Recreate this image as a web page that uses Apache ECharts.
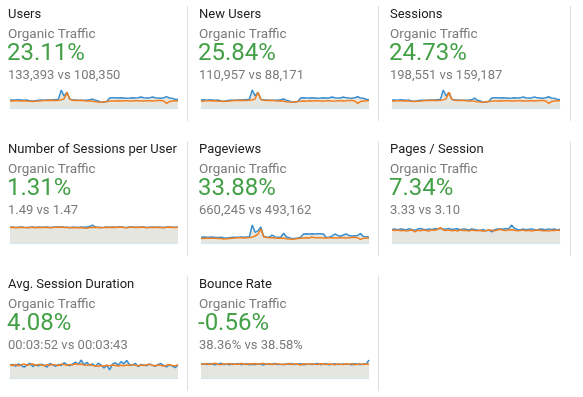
<!DOCTYPE html>
<html>
<head>
<meta charset="utf-8">
<script src="https://cdn.jsdelivr.net/npm/echarts@6/dist/echarts.min.js"></script>
<style>
  html, body { margin: 0; padding: 0; background: #fff; }
  #main { width: 583px; height: 397px; }
</style>
</head>
<body>
<div id="main"></div>
<script>
// scorecard texts
var metricNames = ['Users', 'New Users', 'Sessions', 'Number of Sessions per User', 'Pageviews',
  'Pages / Session', 'Avg. Session Duration', 'Bounce Rate'];
var segmentName = 'Organic Traffic';
var changeLabels = ['23.11%', '25.84%', '24.73%', '1.31%', '33.88%', '7.34%', '4.08%', '-0.56%'];
var compareLabels = ['133,393 vs 108,350', '110,957 vs 88,171', '198,551 vs 159,187', '1.49 vs 1.47',
  '660,245 vs 493,162', '3.33 vs 3.10', '00:03:52 vs 00:03:43', '38.36% vs 38.58%'];

// daily values, current period (blue) and previous period (orange)
var usersCur = [1480,1500,1460,1520,1490,1450,1470,1300,1280,1350,1420,1460,1440,1500,1480,1510,1550,1600,
  3330,2200,2900,1650,
  1500,1480,1420,1450,1430,1470,1520,1650,1450,1300,1050,1100,1200,
  1850,1900,1880,1850,1900,1870,1820,1850,1900,1860,1880,2050,1900,1850,1870,2050,1880,1850,1820,1900,2100,1850,1800,1600,1550];
var usersPrev = [1300,1280,1350,1320,1300,1340,1280,1250,1200,1260,1300,1350,1380,1400,1420,1380,1400,1450,
  1500,1700,2900,1600,
  1450,1400,1380,1420,1350,1300,1320,1250,1150,1100,1050,1150,1200,
  1250,1300,1280,1320,1300,1350,1330,1300,1280,1320,1350,1300,1280,1330,1350,1300,1320,1380,1400,1300,850,1200,1300,1350,1320];

var newUsersCur = [1220,1250,1200,1260,1230,1190,1210,1080,1050,1120,1170,1200,1190,1240,1220,1260,1280,1330,
  2750,1850,2400,1350,
  1240,1220,1170,1200,1180,1210,1260,1380,1200,1080,870,900,1000,
  1520,1560,1540,1520,1560,1530,1500,1520,1560,1530,1540,1680,1560,1520,1540,1690,1550,1520,1500,1560,1720,1520,1480,1330,1280];
var newUsersPrev = [1070,1050,1110,1090,1070,1100,1050,1030,990,1040,1070,1110,1130,1150,1170,1130,1150,1190,
  1230,1400,2400,1320,
  1190,1150,1130,1170,1110,1070,1090,1030,950,900,860,950,990,
  1030,1070,1050,1090,1070,1110,1090,1070,1050,1090,1110,1070,1050,1090,1110,1070,1090,1130,1150,1070,700,990,1070,1110,1090];

var sessionsCur = [2180,2220,2150,2250,2200,2140,2170,1920,1890,2000,2100,2160,2130,2220,2190,2240,2300,2380,
  4950,3300,4300,2450,
  2220,2190,2100,2150,2120,2180,2250,2700,2150,1920,1550,1620,1780,
  2750,2820,2800,2750,2820,2780,2700,2750,2820,2760,2790,3050,2820,2750,2780,3050,2790,2750,2700,2820,3100,2750,2680,2380,2300];
var sessionsPrev = [1930,1900,2000,1960,1930,1990,1900,1850,1780,1870,1930,2000,2050,2080,2110,2050,2080,2150,
  2230,2520,4300,2380,
  2150,2080,2050,2110,2000,1930,1960,1850,1700,1630,1560,1700,1780,
  1850,1930,1900,1960,1930,2000,1970,1930,1900,1960,2000,1930,1900,1970,2000,1930,1960,2050,2080,1930,1260,1780,1930,2000,1960];

var sessPerUserCur = [1.48,1.50,1.47,1.49,1.51,1.48,1.46,1.49,1.50,1.47,
  1.52,1.49,1.48,1.50,1.47,1.49,1.51,1.50,1.53,1.49,
  1.48,1.46,1.50,1.49,1.47,1.50,1.48,1.52,1.55,1.70,
  1.51,1.49,1.47,1.48,1.50,1.49,1.51,1.48,1.50,1.52,
  1.49,1.47,1.50,1.51,1.48,1.49,1.52,1.50,1.47,1.49,
  1.51,1.48,1.50,1.49,1.47,1.50,1.52,1.49,1.48,1.50];
var sessPerUserPrev = [1.46,1.48,1.45,1.47,1.49,1.46,1.44,1.47,1.48,1.45,
  1.49,1.47,1.46,1.48,1.45,1.47,1.49,1.48,1.50,1.47,
  1.46,1.45,1.47,1.45,1.46,1.44,1.41,1.40,1.47,1.46,
  1.48,1.47,1.45,1.46,1.48,1.47,1.49,1.46,1.48,1.50,
  1.47,1.45,1.48,1.49,1.46,1.47,1.50,1.48,1.45,1.47,
  1.49,1.46,1.48,1.47,1.45,1.48,1.50,1.47,1.46,1.48];

var pageviewsCur = [5900,6100,5800,6000,6200,5700,5600,5900,5300,5200,5500,5800,5900,6000,6100,5900,6200,6400,
  18500,11000,12500,16500,
  7000,6200,6000,8200,6300,5800,5900,10000,6100,5500,4500,4800,5200,6000,
  9200,9500,9300,9400,9200,9500,9400,9300,5600,5800,7200,9200,7800,7000,8200,9300,7600,7200,7500,7800,9600,6800,6300,6100];
var pageviewsPrev = [4900,4700,5100,5000,4800,5000,4700,4600,4200,4300,4700,5000,5200,5300,5400,5200,5300,5600,
  6000,7200,9000,14400,
  6500,5600,5400,5500,5200,5000,5100,4900,4300,4100,3900,4200,4600,4900,
  5100,5300,5200,6200,5300,5500,5400,5200,5100,5300,5500,5200,5100,5400,5500,5200,5400,5600,5800,5300,3700,4800,5200,5100];

var pagesPerSessCur = [3.30,3.45,3.25,3.40,3.35,3.20,3.50,3.30,3.15,3.40,
  3.55,3.35,3.25,3.45,3.30,3.50,3.40,3.60,3.35,3.45,
  3.55,3.30,3.40,3.50,3.25,3.45,3.35,3.20,3.40,3.30,
  3.15,3.05,3.30,2.95,3.20,2.70,3.25,3.40,3.50,3.35,
  3.55,3.45,4.40,3.60,3.30,3.20,3.40,3.25,3.35,3.45,
  3.30,3.20,3.40,3.35,3.25,3.45,3.30,3.40,3.20,3.35];
var pagesPerSessPrev = [3.15,3.05,3.20,3.00,3.10,2.90,3.05,3.20,2.75,3.10,
  3.00,3.15,3.05,2.95,3.20,3.10,3.30,3.75,3.20,3.05,
  3.15,3.00,3.10,2.95,3.20,3.05,3.10,2.90,3.15,3.05,
  3.00,3.10,2.85,3.05,3.15,3.10,3.00,3.20,3.35,3.10,
  3.05,3.15,3.25,3.10,3.00,3.05,3.15,3.00,3.10,2.95,
  3.05,3.15,3.10,3.00,3.05,2.90,3.10,3.05,3.15,3.05];

// seconds
var avgDurationCur = [230,250,215,260,225,200,240,270,210,245,
  220,255,235,200,265,240,215,250,230,280,
  245,225,260,290,250,330,240,290,230,260,
  215,270,240,185,230,150,255,280,235,300,
  260,320,245,235,270,210,250,240,225,260,
  235,215,250,265,230,205,245,220,190,240];
var avgDurationPrev = [240,230,250,225,245,255,235,245,260,230,
  250,240,225,245,235,250,240,230,255,245,
  235,250,240,260,245,255,240,235,250,230,
  225,215,230,220,235,225,240,230,220,235,
  225,240,230,245,235,225,240,230,245,250,
  235,225,240,230,220,235,245,230,225,240];

var bounceCur = [38.5,39.8,37.2,40.1,38.0,36.5,39.2,41.0,37.5,38.8,
  36.9,39.5,38.2,40.3,37.0,38.6,39.9,36.8,38.4,37.6,
  39.1,38.0,36.4,39.7,37.8,38.9,40.2,37.3,38.5,36.7,
  39.3,38.1,40.0,37.4,38.6,39.6,36.9,38.3,39.0,37.5,
  38.8,40.4,37.1,38.7,39.4,36.6,38.2,39.8,37.7,38.5,
  39.2,37.9,38.4,36.8,39.5,38.0,37.3,39.1,38.6,50.0];
var bouncePrev = [39.0,38.2,40.3,37.6,39.5,40.8,38.1,36.9,39.7,38.5,
  40.2,37.8,39.1,38.0,40.5,39.3,37.4,39.8,38.6,40.1,
  37.9,39.4,40.7,38.2,39.6,37.5,38.8,39.9,37.1,39.0,
  38.4,40.3,37.7,39.2,38.1,36.2,39.5,38.7,37.9,39.8,
  38.3,37.4,39.6,38.9,37.2,39.1,38.5,37.0,39.3,38.2,
  37.8,39.4,38.1,39.9,36.4,38.7,39.2,37.6,38.9,38.4];

var curSeries = [usersCur, newUsersCur, sessionsCur, sessPerUserCur, pageviewsCur, pagesPerSessCur, avgDurationCur, bounceCur];
var prevSeries = [usersPrev, newUsersPrev, sessionsPrev, sessPerUserPrev, pageviewsPrev, pagesPerSessPrev, avgDurationPrev, bouncePrev];

var BLUE = '#3a8fd0', ORANGE = '#f07f22', AREA = '#e6e6e1';
var FONT = 'Roboto, "Noto Sans", sans-serif';

var myChart = echarts.init(document.getElementById('main'), null, { renderer: 'canvas' });

var grids = [], xAxes = [], yAxes = [], series = [], graphics = [];

for (var i = 0; i < metricNames.length; i++) {
  var col = i % 3, row = Math.floor(i / 3);
  var tx = 8 + col * 191;       // text left
  var ty = row * 135;           // panel top
  var sx = 10 + col * 191;      // sparkline left

  grids.push({ left: sx, top: ty + 90, width: 168, height: 18 });
  xAxes.push({
    gridIndex: i, type: 'category', boundaryGap: false,
    axisLine: { show: true, lineStyle: { color: '#d3e4f3', width: 1 } },
    axisTick: { show: false }, axisLabel: { show: false }, splitLine: { show: false }
  });
  yAxes.push({
    gridIndex: i, type: 'value', min: 0, max: 'dataMax', show: false, splitLine: { show: false }
  });

  // grey fill under both periods, drawn below the lines
  [curSeries[i], prevSeries[i]].forEach(function (d) {
    series.push({
      type: 'line', xAxisIndex: i, yAxisIndex: i, data: d, symbol: 'none', silent: true, z: 1,
      lineStyle: { width: 0, opacity: 0 }, areaStyle: { color: AREA, opacity: 1 }
    });
  });
  series.push({
    type: 'line', xAxisIndex: i, yAxisIndex: i, data: curSeries[i], symbol: 'none', z: 3,
    lineStyle: { color: BLUE, width: 1.5 }
  });
  series.push({
    type: 'line', xAxisIndex: i, yAxisIndex: i, data: prevSeries[i], symbol: 'none', z: 4,
    lineStyle: { color: ORANGE, width: 1.5 }
  });

  graphics.push({ type: 'text', x: tx, y: ty + 14.5,
    style: { text: metricNames[i], font: '13px ' + FONT, fill: '#212121', verticalAlign: 'middle' } });
  graphics.push({ type: 'text', x: tx, y: ty + 34.5,
    style: { text: segmentName, font: '13.5px ' + FONT, fill: '#7b7b7b', verticalAlign: 'middle' } });
  graphics.push({ type: 'text', x: tx - 1, y: ty + 54,
    style: { text: changeLabels[i], font: '24px ' + FONT, fill: '#43a047', verticalAlign: 'middle' } });
  graphics.push({ type: 'text', x: tx, y: ty + 76,
    style: { text: compareLabels[i], font: '13px ' + FONT, fill: '#7b7b7b', verticalAlign: 'middle' } });

  // panel divider on the right
  var dx = [187.5, 378.5, 570.5][col];
  graphics.push({ type: 'line', shape: { x1: dx, y1: ty + 6, x2: dx, y2: ty + 121 },
    style: { stroke: '#e0e0e0', lineWidth: 1 } });
}

var option = {
  animation: false,
  grid: grids,
  xAxis: xAxes,
  yAxis: yAxes,
  series: series,
  graphic: graphics
};

myChart.setOption(option);
</script>
</body>
</html>
